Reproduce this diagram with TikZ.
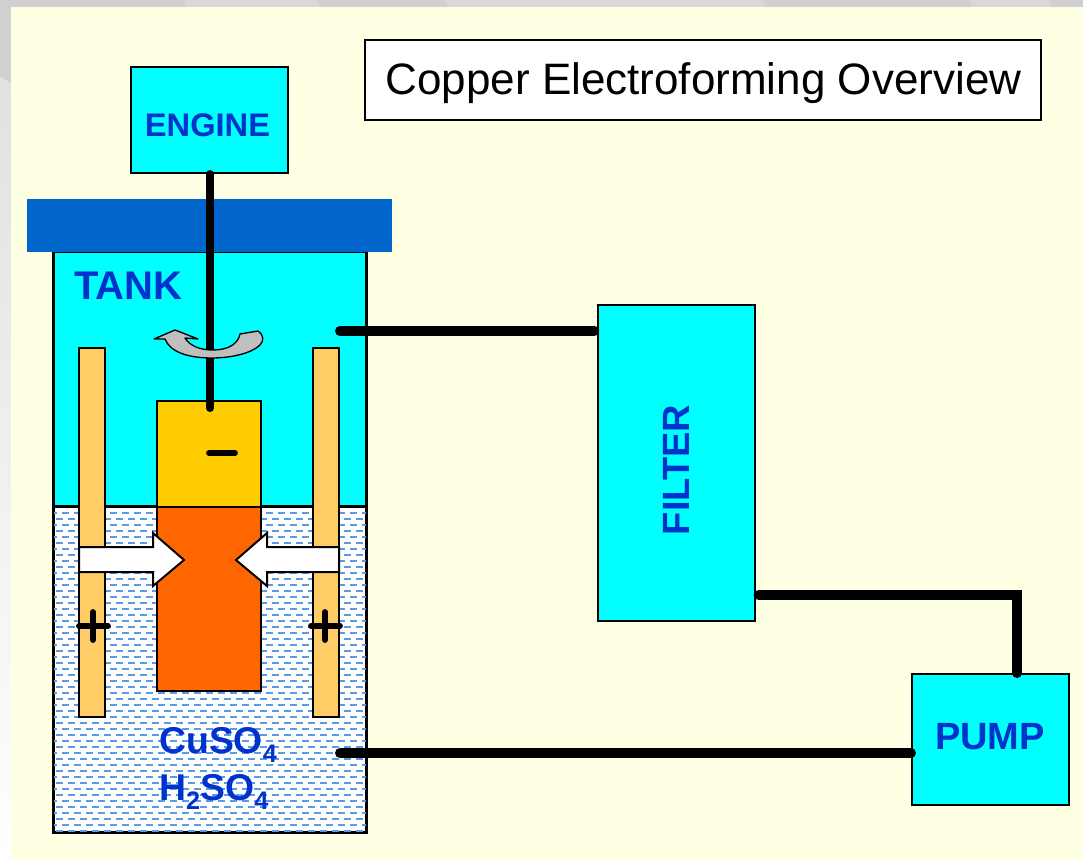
\documentclass[tikz,border=0pt]{standalone}
\usepackage{fontspec}
\setmainfont{Liberation Sans}
\usepackage{tikz}
\definecolor{slide}{HTML}{FFFFE3}
\definecolor{aqua}{HTML}{00FFFF}
\definecolor{lid}{HTML}{0066CC}
\definecolor{ink}{HTML}{0033CC}
\definecolor{anode}{HTML}{FFCC66}
\definecolor{holder}{HTML}{FFCC00}
\definecolor{copper}{HTML}{FF6600}
\definecolor{wave}{HTML}{5A9AE6}
\definecolor{edgedark}{HTML}{D0D0D0}
\definecolor{edgelight}{HTML}{D8D8D8}
\newcommand{\chemsub}[1]{\raisebox{-0.24em}{\fontsize{19}{19}\selectfont #1}}
\tikzset{
	unitbox/.style={draw=black, fill=aqua, line width=1.5pt, inner sep=0pt},
	unitlabel/.style={text=ink, font=\fontsize{28.5}{32}\selectfont\bfseries, inner sep=0pt},
	part/.style={draw=black, line width=1.5pt},
	pipe/.style={line width=7.5pt, line cap=round},
	shaft/.style={line width=6pt, line cap=round},
	sign/.style={line width=4.4pt, line cap=round},
	ionarrow/.style={draw=black, fill=white, line width=1.5pt, line join=miter}
}
\begin{document}
\begin{tikzpicture}[x=0.75pt, y=-0.75pt]
	\useasboundingbox (0,0) rectangle (1083,860);

	% slide background
	\fill[edgelight] (0,0) rectangle (1083,7);
	\fill[edgedark] (0,0) -- (183,0) -- (186,7) -- (0,7) -- cycle;
	\fill[edgedark] (318,0) -- (321,7) -- (448,7) -- (445,0) -- cycle;
	\fill[edgedark] (763,0) -- (766,7) -- (972,7) -- (969,0) -- cycle;
	\fill[edgedark] (1049,0) -- (1052,7) -- (1083,7) -- (1083,0) -- cycle;
	\shade[top color=black!12, bottom color=white] (0,72) rectangle (11,860);
	\fill[edgedark] (0,0) -- (11,0) -- (11,83) -- (0,76) -- cycle;
	\fill[slide] (11,7) rectangle (1083,860);

	% tank with its liquid
	\node[part, fill=aqua, minimum width=234pt, minimum height=435pt, inner sep=0pt] (tank) at (210,542) {};
	\node[part, fill=white, minimum width=234pt, minimum height=243.75pt, inner sep=0pt] (liquid) at (210,669.5) {};
	\begin{scope}
		\clip (54,507) rectangle (366,832);
		\foreach \row in {0,...,26} {
			\pgfmathsetmacro{\rowy}{513+12*\row}
			\draw[wave, line width=0.8pt, dash pattern=on 5.2pt off 3.8pt] (50,\rowy) -- (370,\rowy);
			\draw[wave, line width=0.8pt, dash pattern=on 5.2pt off 3.8pt] (56,\rowy+6) -- (370,\rowy+6);
		}
	\end{scope}
	\draw[line width=1.8pt] (tank.south west) rectangle (tank.north east);
	\draw[line width=1.5pt] (liquid.north west) -- (liquid.north east);

	\node[fill=lid, minimum width=273.75pt, minimum height=39.75pt, inner sep=0pt] (cover) at (209.5,225.5) {};

	% electrodes
	\node[part, fill=anode, minimum width=19.5pt, minimum height=276.75pt, inner sep=0pt] (anodeL) at (92,532.5) {};
	\node[part, fill=anode, minimum width=19.5pt, minimum height=276.75pt, inner sep=0pt] (anodeR) at (326,532.5) {};
	\node[part, fill=holder, minimum width=78pt, minimum height=79.5pt, inner sep=0pt] (mandrel) at (209,454) {};
	\node[part, fill=copper, minimum width=78pt, minimum height=138pt, inner sep=0pt] (deposit) at (209,599) {};

	% boxes
	\node[unitbox, minimum width=117.75pt, minimum height=79.5pt] (engine) at (209.5,120) {};
	\node[unitlabel, font=\fontsize{24.5}{28}\selectfont\bfseries] (enginetext) at (207.5,125.5) {ENGINE};
	\node[unitbox, minimum width=117.75pt, minimum height=237pt] (filter) at (676.5,463) {};
	\node[unitlabel, rotate=90] (filtertext) at (676,470) {FILTER};
	\node[unitbox, minimum width=117.75pt, minimum height=98.25pt] (pump) at (990.5,739.5) {};
	\node[unitlabel] (pumptext) at (990,737) {PUMP};
	\node[draw=black, fill=white, line width=1pt, minimum width=507pt, minimum height=60pt, inner sep=0pt] (title) at (703,80) {};
	\node[font=\fontsize{33}{38}\selectfont, inner sep=0pt] (titletext) at (703.5,83) {Copper Electroforming Overview};
	\node[unitlabel, anchor=west, font=\fontsize{30}{32}\selectfont\bfseries] (tanktext) at (74,286) {TANK};
	\node[unitlabel, anchor=west, font=\fontsize{28}{32}\selectfont\bfseries] (bathA) at (159,745) {CuSO\chemsub{4}};
	\node[unitlabel, anchor=west, font=\fontsize{28}{32}\selectfont\bfseries] (bathB) at (159,792) {H\chemsub{2}SO\chemsub{4}};

	% connectors
	\coordinate (shaftend) at (210,408);
	\coordinate (tankout) at (340,331);
	\coordinate (tankin) at (340,753);
	\draw[shaft] (engine.south -| shaftend) -- (shaftend);
	\draw[pipe, shorten >=2pt] (tankout) -- (tankout -| filter.west);
	\draw[pipe, shorten <=2pt] (filter.-59.1) -| (pump.68);
	\draw[pipe] (tankin) -- (tankin -| pump.west);

	% rotation mark
	\draw[draw=black, fill=black!25, line width=1pt, line join=round] (154,339) -- (175,330) -- (198,339) -- (185,338)
		.. controls (190,346) and (200,350) .. (213,350)
		.. controls (228,350) and (238,344) .. (240,334) -- (258,331)
		.. controls (264,335) and (264,341) .. (260,345)
		.. controls (252,353) and (232,358) .. (212,358)
		.. controls (188,358) and (170,352) .. (165,339) -- cycle;

	% ion flow
	\draw[ionarrow] (79,547) -- (153,547) -- (153,533) -- (184,560) -- (153,586) -- (153,572) -- (79,572) -- cycle;
	\draw[ionarrow] (339,547) -- (267,547) -- (267,533) -- (236,560) -- (267,586) -- (267,572) -- (339,572) -- cycle;

	% polarity
	\draw[sign] (209,453) -- (235,453);
	\draw[sign] (79,626) -- (108,626);
	\draw[sign] (93,612) -- (93,640);
	\draw[sign] (311,626) -- (340,626);
	\draw[sign] (325,612) -- (325,640);
\end{tikzpicture}
\end{document}
